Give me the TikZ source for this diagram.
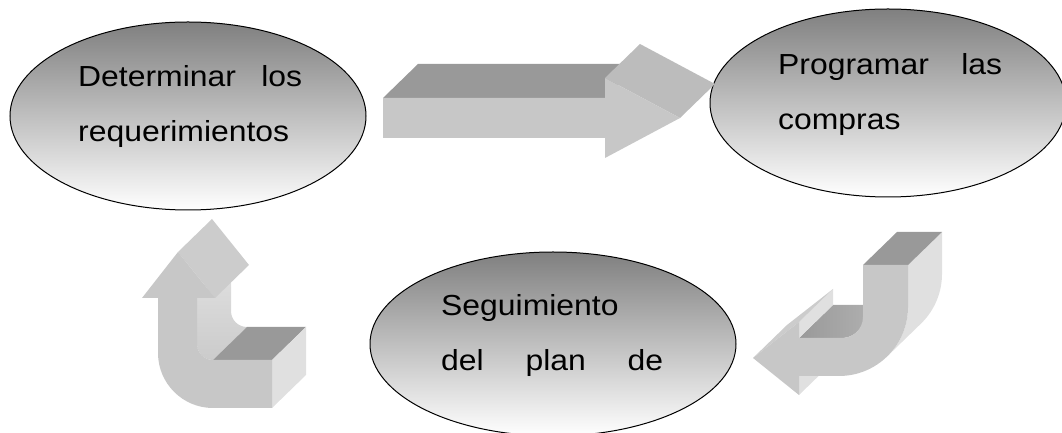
\documentclass[tikz,border=0pt]{standalone}
\usepackage{fontspec}
\newfontfamily\stagefont[FakeStretch=1.10]{Liberation Sans}
\usetikzlibrary{shapes.geometric,positioning,calc}
\definecolor{topgray}{gray}{0.6}
\definecolor{headgray}{gray}{0.8}
\definecolor{frontgray}{gray}{0.78}
\definecolor{sidegray}{gray}{0.88}

\tikzset{
	stage/.style={ellipse,draw,line width=1pt,top color=black!50,bottom color=white,minimum width=356pt,minimum height=188pt,inner sep=0pt},
	lbl/.style={anchor=base west,inner sep=0pt,font=\stagefont\fontsize{29}{34}\selectfont}
}

\begin{document}
\begin{tikzpicture}[x=1pt,y=1pt]
	\useasboundingbox (0,0) rectangle (1062,433);
	\clip (0,0) rectangle (1062,433);
	
	\node[stage] (req) at (188,317) {};
	\node[stage] (prog) at (888,330) {};
	\node[stage,minimum width=366pt,minimum height=184pt] (seg) at (553,89) {};
	
	\node[lbl] (reqa) at ($(req.center)+(-110,29)$) {\hbox to 224pt{Determinar\hfill los}};
	\node[lbl] (reqb) at ($(reqa.base west)+(0,-55)$) {requerimientos};
	
	\node[lbl] (proga) at ($(prog.center)+(-110,28)$) {\hbox to 224pt{Programar\hfill las}};
	\node[lbl] (progb) at ($(proga.base west)+(0,-55)$) {compras};
	
	\node[lbl] (sega) at ($(seg.center)+(-112,28)$) {Seguimiento};
	\node[lbl] (segb) at ($(sega.base west)+(0,-55)$) {\hbox to 222pt{del\hfill plan\hfill de}};
	
	%top arrow
	\fill[topgray] (383,335) -- (418,369) -- (640,369) -- (605,335) -- cycle;
	\fill[headgray!92!black] (605,355) -- (640,389) -- (715,349) -- (680,315) -- cycle;
	\fill[frontgray] (383,335) -- (605,335) -- (605,355) -- (680,315) -- (605,275) -- (605,295) -- (383,295) -- cycle;
	
	%left arrow
	\shade[top color=sidegray,bottom color=sidegray!70!topgray] (197,135) -- (197,89) arc[start angle=180,end angle=270,radius=16] -- (247,106) arc[start angle=270,end angle=180,radius=16] -- (231,168) -- cycle;
	\fill[topgray] (213,73) -- (272,73) -- (306,106) -- (247,106) -- cycle;
	\fill[sidegray] (272,73) -- (306,106) -- (306,58) -- (272,25) -- cycle;
	\fill[headgray] (178,181) -- (212,214) -- (249,168) -- (215,135) -- cycle;
	\fill[frontgray] (142,135) -- (178,181) -- (215,135) -- (197,135) -- (197,89) arc[start angle=180,end angle=270,radius=16] -- (272,73) -- (272,25) -- (213,25) arc[start angle=270,end angle=180,radius=55] -- (158,135) -- cycle;
	
	%right arrow
	\fill[sidegray] (908,168) -- (908,126) arc[start angle=0,end angle=-45,radius=69] -- ++(34,33) arc[start angle=-45,end angle=0,radius=69] -- (942,201) -- cycle;
	\fill[topgray] (863,168) -- (908,168) -- (942,201) -- (897,201) -- cycle;
	\shade[left color=topgray,right color=topgray!60!sidegray] (799,95) -- (842,95) arc[start angle=-90,end angle=-45,radius=21] -- ++(34,33) arc[start angle=-45,end angle=-90,radius=21] -- (833,128) -- cycle;
	\fill[sidegray] (799,95) -- (799,111) -- (833,144) -- (833,128) -- cycle;
	\fill[headgray] (753,75) -- (799,111) -- (833,144) -- (787,108) -- cycle;
	\fill[sidegray] (799,38) -- (799,57) -- (833,90) -- (833,71) -- cycle;
	\fill[frontgray] (863,168) -- (908,168) -- (908,126) arc[start angle=0,end angle=-90,radius=69] -- (799,57) -- (799,38) -- (753,75) -- (799,111) -- (799,95) -- (842,95) arc[start angle=-90,end angle=0,radius=21] -- cycle;
\end{tikzpicture}
\end{document}
